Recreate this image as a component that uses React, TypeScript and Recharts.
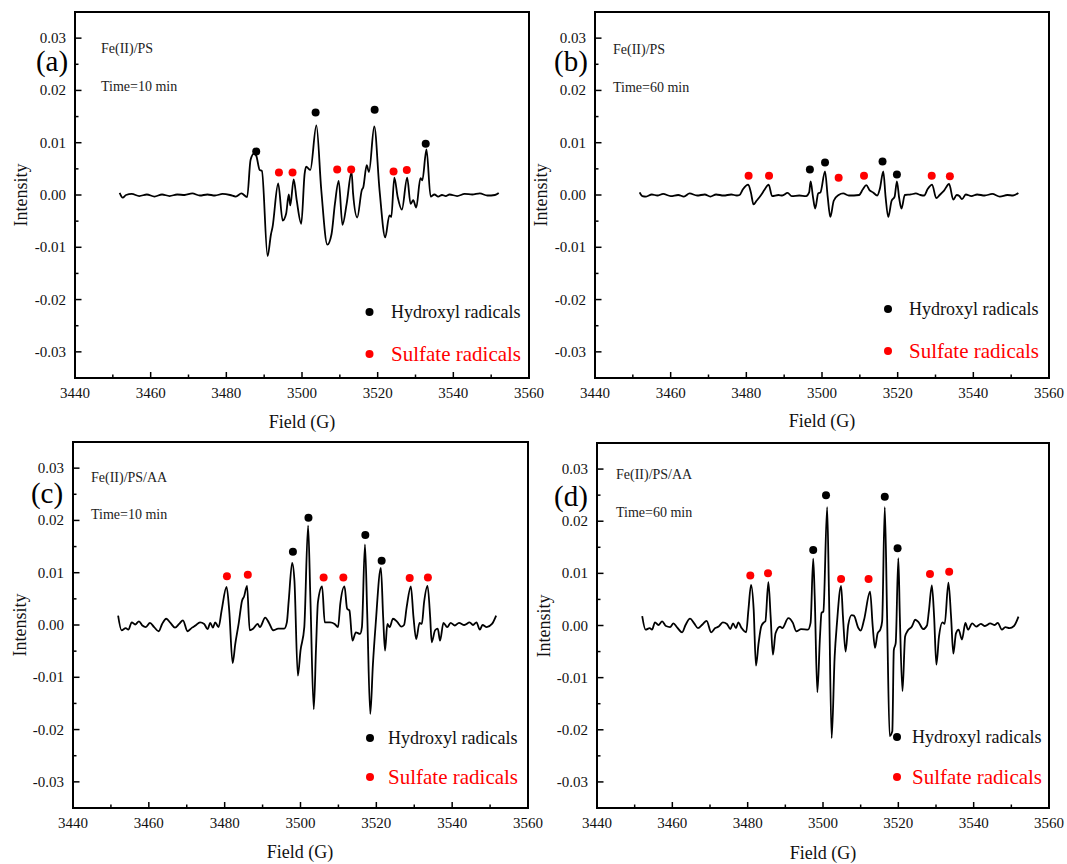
import React from 'react';
import { ComposedChart, Line, Scatter, XAxis, YAxis } from 'recharts';

const FONT = '"Liberation Serif", "Times New Roman", serif';

// ── Axis ticks ───────────────────────────────────────────────────────────────
const fieldTicks = [3440, 3450, 3460, 3470, 3480, 3490, 3500, 3510, 3520, 3530, 3540, 3550, 3560];
const intensityTicks = [-0.03, -0.025, -0.02, -0.015, -0.01, -0.005, 0, 0.005, 0.01, 0.015, 0.02, 0.025, 0.03];

// ── (a) Fe(II)/PS, 10 min ────────────────────────────────────────────────────
const spectrumA: [number, number][] = [
  [3451.8, 0.0004], [3452.6, -0.0005], [3453.5, 0.0], [3455, 0.0002], [3457, -0.0002], [3459, 0.0001],
  [3461, -0.0003], [3463, 0.0001], [3465, -0.0002], [3467, 0.0001], [3469, 0.0], [3471, 0.0003],
  [3473, -0.0001], [3475, 0.0001], [3477, -0.0001], [3479, 0.0002], [3481, 0.0], [3482.5, -0.0003],
  [3484, 0.0003], [3485.5, -0.0004], [3486.4, 0.0067], [3487.3, 0.0079], [3487.9, 0.0075], [3488.8, 0.0048],
  [3489.4, 0.0046], [3490.9, -0.0117], [3491.8, -0.0075], [3492.2, -0.0062], [3493.7, 0.0022], [3494.9, -0.0049],
  [3495.8, -0.0036], [3496.5, 0.0001], [3496.9, -0.002], [3497.8, 0.003], [3498.6, -0.001], [3499.8, -0.0055],
  [3500.7, 0.0041], [3501.1, 0.0054], [3502.2, 0.0048], [3503.8, 0.0133], [3505.1, 0.0009], [3506.7, -0.0095],
  [3507.8, -0.0075], [3508.7, -0.0017], [3509.7, 0.0027], [3510.7, -0.0057], [3511.8, -0.0017], [3513.1, 0.0044],
  [3513.5, 0.0003], [3514.6, -0.0043], [3515.8, 0.0009], [3516.2, 0.0015], [3517.1, 0.0057], [3517.7, 0.0044],
  [3519.1, 0.0131], [3520.5, 0.0009], [3522.0, -0.0081], [3523.1, -0.0039], [3523.6, -0.0042], [3524.4, 0.0033],
  [3525.3, -0.0004], [3526.4, -0.0028], [3527.8, 0.0033], [3528.7, -0.0017], [3529.4, -0.001], [3530.2, -0.0024],
  [3531.3, 0.0032], [3531.8, 0.0028], [3532.9, 0.0087], [3534.0, -0.0003], [3535, 0.0001], [3536, -0.0003],
  [3537, 0.0], [3538, -0.0002], [3539, 0.0001], [3541, -0.0002], [3543, 0.0002], [3545, 0.0001],
  [3547, 0.0003], [3549, -0.0001], [3551, 0.0], [3552, 0.0004],
];
const hydroxylA: [number, number][] = [[3487.9, 0.0083], [3503.6, 0.0158], [3519.2, 0.0163], [3532.7, 0.0098]];
const sulfateA: [number, number][] = [[3493.9, 0.0043], [3497.5, 0.0043], [3509.3, 0.0049], [3513.0, 0.0049], [3524.2, 0.0045], [3527.7, 0.0048]];

// ── (b) Fe(II)/PS, 60 min ────────────────────────────────────────────────────
const spectrumB: [number, number][] = [
  [3451.8, 0.0005], [3452.5, -0.0002], [3453.5, -0.0003], [3455, 0.0001], [3456.5, -0.0001], [3458, 0.0002],
  [3460, -0.0002], [3462, 0.0], [3463.5, -0.0003], [3465, 0.0003], [3467, -0.0001], [3469, 0.0001],
  [3470.5, -0.0003], [3472, 0.0001], [3474, -0.0001], [3476, 0.0001], [3477.5, -0.0001], [3478.2, 0.0],
  [3479.1, 0.0011], [3480.5, 0.002], [3481.2, 0.0005], [3481.9, -0.0018], [3482.7, -0.0011], [3483.9, 0.0],
  [3484.8, 0.001], [3485.9, 0.002], [3486.8, -0.0002], [3488.5, 0.0], [3489.5, -0.0001], [3490.9, 0.0004],
  [3492, -0.0002], [3494, -0.0001], [3495.8, -0.0002], [3496.6, 0.0005], [3497.0, 0.0026], [3497.6, -0.0003],
  [3498.2, -0.0026], [3499.0, 0.0003], [3499.6, 0.0005], [3500.8, 0.0045], [3501.5, -0.0003], [3502.2, -0.0042],
  [3503.1, -0.0011], [3504.4, 0.0], [3505.6, 0.0003], [3507.1, -0.0001], [3509.8, 0.0], [3510.8, 0.0011],
  [3511.7, 0.0019], [3512.6, 0.0009], [3513.5, 0.0005], [3514.6, -0.0001], [3515.3, 0.0012], [3516.2, 0.0045],
  [3516.8, -0.0003], [3517.5, -0.0042], [3518.4, -0.0011], [3519.2, -0.0003], [3519.8, 0.0026], [3520.4, -0.0006],
  [3521.0, -0.0026], [3521.9, 0.0], [3523.5, 0.0001], [3524.8, 0.0003], [3526, 0.0], [3527.0, -0.0001],
  [3527.9, 0.0011], [3529.1, 0.002], [3530.2, -0.0006], [3531.1, 0.0], [3532.2, 0.0008], [3533.6, 0.0021],
  [3534.7, -0.0009], [3535.6, 0.0], [3536.3, -0.0002], [3537.0, -0.0008], [3538, 0.0001], [3539.5, -0.0002],
  [3541, 0.0001], [3543, -0.0001], [3545, 0.0002], [3547, -0.0003], [3549, 0.0], [3550.5, -0.0001], [3551.9, 0.0004],
];
const hydroxylB: [number, number][] = [[3496.8, 0.0049], [3500.8, 0.0062], [3516.0, 0.0064], [3519.8, 0.0039]];
const sulfateB: [number, number][] = [[3480.6, 0.0037], [3486.0, 0.0037], [3504.4, 0.0033], [3511.1, 0.0037], [3529.0, 0.0037], [3533.8, 0.0036]];

// ── (c) Fe(II)/PS/AA, 10 min ─────────────────────────────────────────────────
const spectrumC: [number, number][] = [
  [3451.9, 0.0018], [3452.8, -0.001], [3453.9, -0.0006], [3454.6, -0.0009], [3455.5, 0.0005], [3456.4, 0.0001],
  [3457.4, 0.0007], [3458.3, -0.0001], [3459.2, -0.0004], [3460.3, 0.0004], [3461.4, -0.0004], [3462.6, -0.0012],
  [3463.5, 0.0002], [3464.6, 0.0012], [3465.7, 0.0004], [3466.9, -0.0005], [3468.0, 0.0002], [3469.0, 0.0009],
  [3470.2, -0.0012], [3471.4, -0.0005], [3472.3, -0.0001], [3473.5, 0.0005], [3474.6, 0.0002], [3475.5, -0.0008],
  [3476.2, 0.0004], [3476.9, -0.0005], [3477.5, 0.0005], [3478.4, -0.0004], [3479.2, 0.0028], [3480.5, 0.0073],
  [3481.2, 0.0028], [3482.1, -0.0073], [3482.8, -0.0036], [3483.7, 0.0003], [3484.6, 0.0047], [3485.1, 0.0054],
  [3485.9, 0.0075], [3486.6, -0.001], [3487.5, -0.0007], [3488.7, 0.0002], [3489.3, -0.0004], [3490.7, 0.0014],
  [3491.7, 0.0004], [3492.8, -0.001], [3494.1, -0.0007], [3495.7, -0.0007], [3496.4, 0.0005], [3496.9, 0.0047],
  [3497.8, 0.0119], [3498.4, 0.0085], [3499.3, -0.0097], [3500.0, -0.0049], [3501.0, -0.0004], [3502.0, 0.019],
  [3502.6, 0.0053], [3503.5, -0.0161], [3504.1, -0.0043], [3504.6, 0.0044], [3505.7, 0.0074], [3506.4, 0.0005],
  [3507.8, 0.0005], [3509.0, 0.0002], [3509.9, -0.0004], [3510.5, 0.0041], [3511.6, 0.0074], [3512.3, 0.0031],
  [3512.9, 0.0028], [3513.7, -0.003], [3514.6, -0.0014], [3515.7, -0.0017], [3516.2, -0.0004], [3517.0, 0.0154],
  [3517.6, 0.0021], [3518.4, -0.017], [3519.1, -0.0075], [3519.8, -0.0001], [3521.2, 0.0109], [3521.8, 0.0015],
  [3522.3, -0.0049], [3522.9, 0.0002], [3523.5, -0.0004], [3524.4, 0.0012], [3525.5, 0.0006], [3526.6, -0.0003],
  [3527.3, 0.0], [3528.0, 0.0034], [3529.1, 0.0074], [3529.8, 0.0015], [3530.5, -0.0027], [3531.4, 0.0004],
  [3532.0, 0.0002], [3532.6, 0.0044], [3533.5, 0.0075], [3534.2, 0.0015], [3534.6, -0.0033], [3535.5, -0.001],
  [3536.2, -0.0007], [3536.8, -0.003], [3537.7, 0.0004], [3538.7, -0.0004], [3539.6, 0.0004], [3540.7, -0.0001],
  [3541.8, 0.0004], [3543.2, 0.0], [3544.6, 0.0005], [3545.5, 0.0], [3546.4, 0.0005], [3547.3, -0.0009],
  [3548.0, 0.0], [3549.1, -0.0004], [3550.5, 0.0002], [3551.6, 0.0018],
];
const hydroxylC: [number, number][] = [[3498.0, 0.014], [3502.1, 0.0205], [3517.1, 0.0172], [3521.4, 0.0123]];
const sulfateC: [number, number][] = [[3480.6, 0.0093], [3486.1, 0.0096], [3506.1, 0.0091], [3511.3, 0.0091], [3528.8, 0.009], [3533.6, 0.0091]];

// ── (d) Fe(II)/PS/AA, 60 min ─────────────────────────────────────────────────
const spectrumD: [number, number][] = [
  [3452.0, 0.0018], [3452.9, -0.0008], [3454.0, -0.0005], [3454.6, -0.0008], [3455.4, 0.0006], [3456.3, 0.0001],
  [3457.3, 0.0008], [3458.3, -0.0001], [3459.4, -0.0003], [3460.3, 0.0004], [3461.2, -0.0003], [3462.6, -0.0013],
  [3463.5, 0.0001], [3464.7, 0.0013], [3465.8, 0.0004], [3466.8, -0.0005], [3468.0, 0.0002], [3469.1, 0.0009],
  [3470.3, -0.0013], [3471.4, -0.0005], [3472.3, -0.0002], [3473.4, 0.0006], [3474.5, 0.0003], [3475.4, -0.0007],
  [3476.1, 0.0004], [3476.9, -0.0005], [3477.5, 0.0006], [3478.4, -0.0005], [3479.6, -0.0013], [3480.2, 0.003],
  [3480.9, 0.0078], [3481.6, 0.003], [3482.2, -0.0077], [3482.9, -0.0034], [3483.6, -0.0002], [3484.3, 0.0006],
  [3484.7, 0.0008], [3485.5, 0.0083], [3486.1, 0.0017], [3486.7, -0.0056], [3487.4, -0.0015], [3488.6, -0.0002],
  [3489.2, -0.0005], [3490.8, 0.0014], [3492.0, 0.0005], [3492.9, -0.0011], [3494.2, -0.0007], [3496.0, -0.0008],
  [3496.7, 0.0005], [3497.4, 0.0128], [3497.8, 0.0056], [3498.5, -0.0128], [3499.2, -0.0021], [3499.6, 0.0024],
  [3500.1, 0.0027], [3501.1, 0.0227], [3501.6, 0.0056], [3502.3, -0.0216], [3503.1, -0.0059], [3503.7, 0.0004],
  [3504.8, 0.0076], [3505.3, 0.0017], [3506.0, -0.005], [3506.7, 0.0001], [3507.6, 0.002], [3508.2, 0.0019],
  [3509.4, -0.0005], [3510.0, -0.001], [3510.9, 0.0011], [3512.5, 0.0065], [3513.2, -0.0002], [3513.8, -0.0043],
  [3514.5, -0.0015], [3515.2, -0.0008], [3515.7, 0.0008], [3516.4, 0.0227], [3517.0, 0.0024], [3517.7, -0.0212],
  [3518.4, -0.0203], [3518.8, -0.0047], [3519.3, -0.0034], [3520.0, 0.0129], [3520.4, 0.0017], [3521.1, -0.0126],
  [3521.8, -0.0021], [3522.4, -0.0011], [3523.6, -0.0002], [3524.5, 0.0011], [3525.4, 0.0006], [3526.6, -0.0007],
  [3527.6, 0.0], [3528.1, 0.0027], [3528.9, 0.0077], [3529.5, 0.0017], [3530.1, -0.0075], [3530.8, -0.0021],
  [3531.7, 0.0006], [3532.3, 0.0003], [3533.3, 0.0082], [3534.0, 0.0017], [3534.6, -0.0054], [3535.3, -0.0015],
  [3536.0, -0.0008], [3536.9, -0.0027], [3537.8, 0.0005], [3538.5, -0.0008], [3539.6, 0.0004], [3540.7, -0.0002],
  [3541.9, 0.0003], [3543.0, -0.0001], [3544.4, 0.0004], [3545.6, 0.0001], [3546.4, 0.0005], [3547.5, -0.0008],
  [3548.4, -0.0003], [3549.5, -0.0005], [3550.7, -0.0001], [3551.9, 0.0017],
];
const hydroxylD: [number, number][] = [[3497.4, 0.0145], [3500.8, 0.025], [3516.4, 0.0247], [3519.8, 0.0148]];
const sulfateD: [number, number][] = [[3480.7, 0.0096], [3485.4, 0.01], [3504.8, 0.0089], [3512.1, 0.0089], [3528.4, 0.0099], [3533.5, 0.0103]];

// ── Panel layout (page pixels) ───────────────────────────────────────────────
const panels = [
  {
    tag: '(a)', system: 'Fe(II)/PS', time: 'Time=10 min', spectrum: spectrumA, hydroxyl: hydroxylA, sulfate: sulfateA,
    plot: { x: 75, y: 12, w: 454, h: 366 }, tagPos: [52, 71], sysPos: [101, 48, 86], yLab: [21, 195], xLab: [302, 422],
    legend: { x: 369.5, y1: 312, y2: 354, tx: 391 },
  },
  {
    tag: '(b)', system: 'Fe(II)/PS', time: 'Time=60 min', spectrum: spectrumB, hydroxyl: hydroxylB, sulfate: sulfateB,
    plot: { x: 595, y: 12, w: 454, h: 366 }, tagPos: [571, 71], sysPos: [613, 49, 87], yLab: [541, 195], xLab: [822, 421],
    legend: { x: 888, y1: 309, y2: 351, tx: 909 },
  },
  {
    tag: '(c)', system: 'Fe(II)/PS/AA', time: 'Time=10 min', spectrum: spectrumC, hydroxyl: hydroxylC, sulfate: sulfateC,
    plot: { x: 73, y: 442, w: 455, h: 366 }, tagPos: [47, 503], sysPos: [91, 477, 514], yLab: [20, 625], xLab: [300, 852],
    legend: { x: 370, y1: 738, y2: 777, tx: 388 },
  },
  {
    tag: '(d)', system: 'Fe(II)/PS/AA', time: 'Time=60 min', spectrum: spectrumD, hydroxyl: hydroxylD, sulfate: sulfateD,
    plot: { x: 597, y: 443, w: 452, h: 365 }, tagPos: [571, 506], sysPos: [616, 474, 512], yLab: [544, 626], xLab: [823, 853],
    legend: { x: 897, y1: 737, y2: 777, tx: 912 },
  },
];

const toPoints = (arr: [number, number][]) => arr.map(([x, y]) => ({ x, y }));

function XTick({ x, y, payload }: any) {
  const v = payload.value as number;
  const major = v % 20 === 0;
  return (
    <g>
      <line x1={x} x2={x} y1={y} y2={y - (major ? 6 : 3.5)} stroke="#000" strokeWidth={1.5} />
      {major && (
        <text x={x} y={y + 20} textAnchor="middle" fontSize={15} fontFamily={FONT} fill="#111">{v}</text>
      )}
    </g>
  );
}

function YTick({ x, y, payload }: any) {
  const v = payload.value as number;
  const major = Math.abs(v * 100 - Math.round(v * 100)) < 1e-6;
  return (
    <g>
      <line x1={x} x2={x + (major ? 6.5 : 3.5)} y1={y} y2={y} stroke="#000" strokeWidth={1.5} />
      {major && (
        <text x={x - 9} y={y + 5} textAnchor="end" fontSize={15} fontFamily={FONT} fill="#111">{v.toFixed(2)}</text>
      )}
    </g>
  );
}

const dotShape = (color: string) => (p: any) => <circle cx={p.cx} cy={p.cy} r={4} fill={color} />;

function Panel({ p }: { p: (typeof panels)[number] }) {
  const { plot } = p;
  return (
    <div style={{ position: 'absolute', left: plot.x - 60, top: plot.y - 10 }}>
      <ComposedChart width={plot.w + 90} height={plot.h + 40} margin={{ top: 10, right: 30, bottom: 0, left: 0 }}>
        <XAxis
          type="number" dataKey="x" domain={[3440, 3560]} ticks={fieldTicks} interval={0} height={30}
          tickSize={0} tickMargin={0} axisLine={false} tickLine={false} tick={XTick} allowDataOverflow
        />
        <YAxis
          type="number" domain={[-0.035, 0.035]} ticks={intensityTicks} interval={0} width={60}
          tickSize={0} tickMargin={0} axisLine={false} tickLine={false} tick={YTick} allowDataOverflow
        />
        <Line data={toPoints(p.spectrum)} dataKey="y" type="monotone" stroke="#000" strokeWidth={1.8} dot={false} isAnimationActive={false} />
        <Scatter data={toPoints(p.hydroxyl)} dataKey="y" fill="#000" shape={dotShape('#000')} isAnimationActive={false} />
        <Scatter data={toPoints(p.sulfate)} dataKey="y" fill="#ff0000" shape={dotShape('#ff0000')} isAnimationActive={false} />
      </ComposedChart>
    </div>
  );
}

export default function App() {
  return (
    <div style={{ position: 'absolute', left: 0, top: 0, width: 1067, height: 864, background: '#fff', overflow: 'hidden' }}>
      {panels.map((p) => <Panel key={p.tag} p={p} />)}
      <svg width={1067} height={864} style={{ position: 'absolute', left: 0, top: 0, pointerEvents: 'none' }} fontFamily={FONT}>
        {panels.map((p) => (
          <g key={p.tag}>
            <rect x={p.plot.x} y={p.plot.y} width={p.plot.w} height={p.plot.h} fill="none" stroke="#000" strokeWidth={2} />
            <text x={p.tagPos[0]} y={p.tagPos[1]} textAnchor="middle" fontSize={29} fill="#000">{p.tag}</text>
            <text x={p.sysPos[0]} y={p.sysPos[1]} dominantBaseline="central" fontSize={14} fill="#222">{p.system}</text>
            <text x={p.sysPos[0]} y={p.sysPos[2]} dominantBaseline="central" fontSize={14} fill="#222">{p.time}</text>
            <text
              x={p.yLab[0]} y={p.yLab[1]} textAnchor="middle" dominantBaseline="central" fontSize={18} fill="#111"
              transform={`rotate(-90, ${p.yLab[0]}, ${p.yLab[1]})`}
            >Intensity</text>
            <text x={p.xLab[0]} y={p.xLab[1]} textAnchor="middle" dominantBaseline="central" fontSize={18} fill="#111">Field (G)</text>
            <circle cx={p.legend.x} cy={p.legend.y1} r={4} fill="#000" />
            <text x={p.legend.tx} y={p.legend.y1} dominantBaseline="central" fontSize={18} fill="#111">Hydroxyl radicals</text>
            <circle cx={p.legend.x} cy={p.legend.y2} r={4} fill="#ff0000" />
            <text x={p.legend.tx} y={p.legend.y2} dominantBaseline="central" fontSize={21} fill="#ff0000">Sulfate radicals</text>
          </g>
        ))}
      </svg>
    </div>
  );
}
